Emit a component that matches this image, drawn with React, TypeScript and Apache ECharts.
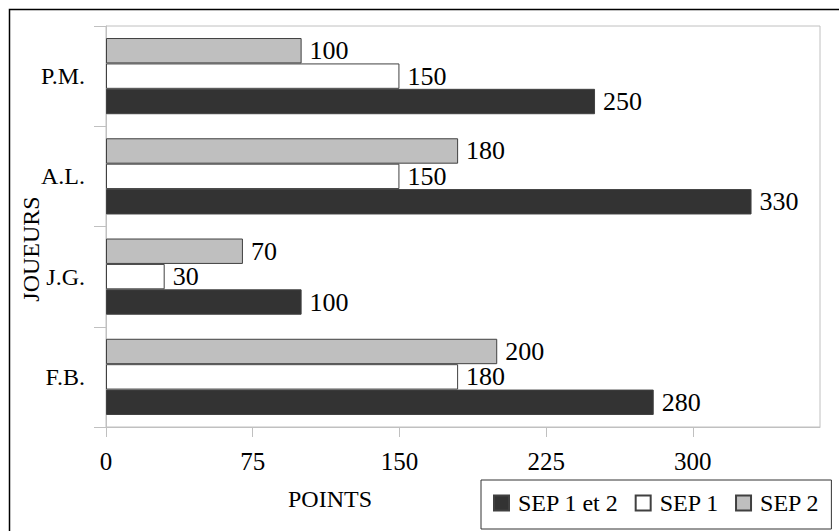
import React, { useEffect, useRef } from "react";
import * as echarts from "echarts";

const categories = ["F.B.", "J.G.", "A.L.", "P.M."];
const seriesNames = ["SEP 1 et 2", "SEP 1", "SEP 2"];
const sep12 = [280, 100, 330, 250];
const sep1 = [180, 30, 150, 150];
const sep2 = [200, 70, 180, 100];
const xTicks = [0, 75, 150, 225, 300];
const xAxisTitle = "POINTS";
const yAxisTitle = "JOUEURS";

const FONT = "'Liberation Serif', serif";

export default function App() {
  const ref = useRef<HTMLDivElement>(null);
  useEffect(() => {
    if (!ref.current) return;
    const chart = echarts.init(ref.current, null, { renderer: "svg" });
    const colors = ["#333333", "#ffffff", "#bfbfbf"];
    const datas = [sep12, sep1, sep2];
    // In a horizontal bar chart ECharts stacks the first series on top,
    // so series are added in reverse order (SEP 2 on top, SEP 1 et 2 at bottom).
    const order = [2, 1, 0];
    chart.setOption({
      animation: false,
      backgroundColor: "#ffffff",
      textStyle: { fontFamily: FONT },
      grid: {
        left: 106,
        top: 26,
        right: 19,
        bottom: 104,
        show: true,
        borderColor: "#c0c0c0",
        borderWidth: 1,
        containLabel: false,
      },
      legend: {
        left: 481,
        top: 480,
        width: 350,
        orient: "horizontal",
        padding: [11, 12, 14, 12],
        borderColor: "#333333",
        borderWidth: 1,
        itemWidth: 15,
        itemHeight: 15,
        itemGap: 16,
        icon: "rect",
        data: seriesNames,
        textStyle: {
          fontFamily: FONT,
          fontSize: 24,
          color: "#000",
          padding: [0, 0, 0, 4],
        },
      },
      xAxis: {
        type: "value",
        min: 0,
        max: 365,
        interval: 75,
        axisLine: { show: true, lineStyle: { color: "#c0c0c0" } },
        axisTick: {
          show: true,
          length: 10,
          customValues: xTicks,
          lineStyle: { color: "#c0c0c0" },
        },
        splitLine: { show: false },
        axisLabel: {
          customValues: xTicks,
          margin: 22,
          fontFamily: FONT,
          fontSize: 25,
          color: "#000",
        },
      },
      yAxis: {
        type: "category",
        data: categories,
        axisLine: { show: true, lineStyle: { color: "#c0c0c0" } },
        axisTick: { show: true, length: 12, lineStyle: { color: "#c0c0c0" } },
        axisLabel: {
          margin: 21,
          fontFamily: FONT,
          fontSize: 24,
          color: "#000",
        },
      },
      graphic: [
        {
          type: "rect",
          shape: { x: 9.5, y: 9.5, width: 900, height: 600 },
          style: { fill: "none", stroke: "#000", lineWidth: 1.5 },
          z: 100,
          silent: true,
        },
        {
          type: "text",
          x: 330,
          y: 499,
          style: {
            text: xAxisTitle,
            fontFamily: FONT,
            fontSize: 24,
            fill: "#000",
            align: "center",
            verticalAlign: "middle",
          },
        },
        {
          type: "text",
          x: 31,
          y: 249,
          rotation: Math.PI / 2,
          style: {
            text: yAxisTitle,
            fontFamily: FONT,
            fontSize: 24,
            fill: "#000",
            align: "center",
            verticalAlign: "middle",
          },
        },
      ],
      series: order.map((i) => ({
        name: seriesNames[i],
        type: "bar",
        data: datas[i],
        barGap: "0%",
        barCategoryGap: "24%",
        itemStyle: {
          color: colors[i],
          borderColor: "#404040",
          borderWidth: 1,
        },
        label: {
          show: true,
          position: "right",
          distance: 8,
          fontFamily: FONT,
          fontSize: 26,
          color: "#000",
        },
      })),
    });
    return () => chart.dispose();
  }, []);
  return (
    <div
      ref={ref}
      style={{ position: "fixed", left: 0, top: 0, width: 839, height: 531 }}
    />
  );
}
